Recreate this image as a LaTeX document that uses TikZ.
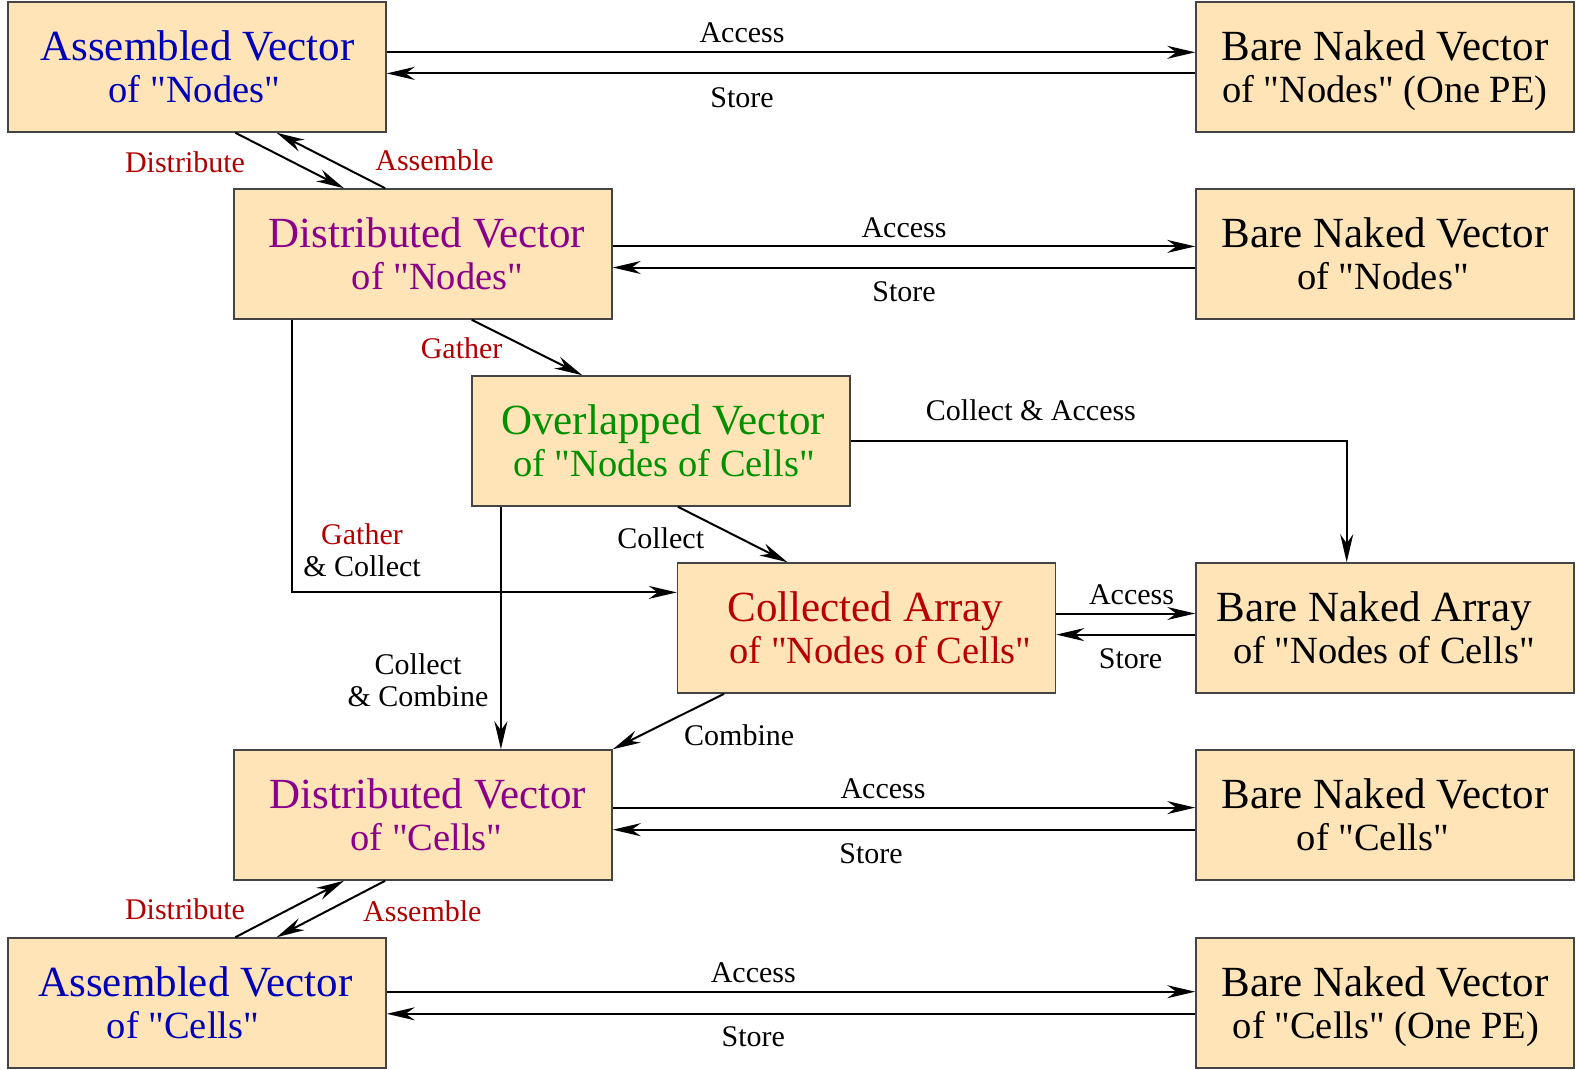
\documentclass[tikz,border=0pt]{standalone}
\usepackage{fontspec}
\setmainfont{Liberation Serif}[Ligatures=TeXOff]
\usetikzlibrary{arrows.meta}

\definecolor{boxfill}{HTML}{FFE4B8}
\definecolor{boxline}{HTML}{444444}
\definecolor{asmblue}{HTML}{0000B8}
\definecolor{distpurple}{HTML}{8B008B}
\definecolor{ovlgreen}{HTML}{009000}
\definecolor{colred}{HTML}{B80000}
\definecolor{opred}{HTML}{B00000}

% second line of a box title is set a little smaller
\newcommand\secondline{\fontsize{38.5}{42}\selectfont}
% move one title line sideways by #1 without changing its width
\newcommand\nudge[2]{\hspace*{#1}#2\kern-#1\relax}

\tikzset{
  vecbox/.style={draw=boxline, line width=1.5pt, fill=boxfill,
    minimum width=378pt, minimum height=130pt, inner sep=0pt,
    align=center, font=\fontsize{43}{42}\selectfont},
  lbl/.style={inner sep=0pt, font=\fontsize{30}{32}\selectfont, align=center},
  oplbl/.style={lbl, text=opred},
  arr/.style={line width=2pt, -{Stealth[length=28pt,width=13pt,inset=9pt]}},
}

\begin{document}
\begin{tikzpicture}[x=1pt,y=-1pt]
\useasboundingbox (0,0) rectangle (1577,1070);

% boxes
\node[vecbox, text=asmblue]    (A1) at (197,67)    {\nudge{0.5pt}{Assembled Vector}\\\secondline \nudge{-2.5pt}{of "Nodes"}};
\node[vecbox]                  (B1) at (1385,67)   {Bare Naked Vector\\\secondline of "Nodes" \smash{(One PE)}};
\node[vecbox, text=distpurple] (D1) at (423,254)   {\nudge{4pt}{Distributed Vector}\\\secondline \nudge{14.5pt}{of "Nodes"}};
\node[vecbox]                  (B2) at (1385,254)  {Bare Naked Vector\\\secondline \nudge{-2pt}{of "Nodes"}};
\node[vecbox, text=ovlgreen]   (O)  at (661,441)   {\nudge{2pt}{Overlapped Vector}\\\secondline \nudge{3pt}{of "Nodes of Cells"}};
\node[vecbox, text=colred]     (C)  at (866.5,628) {\nudge{-1pt}{Collected Array}\\\secondline \nudge{14pt}{of "Nodes of Cells"}};
\node[vecbox]                  (B3) at (1385,628)  {\nudge{-11pt}{Bare Naked Array}\\\secondline \nudge{-1pt}{of "Nodes of Cells"}};
\node[vecbox, text=distpurple] (D2) at (423,815)   {\nudge{5pt}{Distributed Vector}\\\secondline \nudge{3.5pt}{of "Cells"}};
\node[vecbox]                  (B4) at (1385,815)  {Bare Naked Vector\\\secondline \nudge{-12pt}{of "Cells"}};
\node[vecbox, text=asmblue]    (A2) at (197,1003)  {\nudge{-1.5pt}{Assembled Vector}\\\secondline \nudge{-14pt}{of "Cells"}};
\node[vecbox]                  (B5) at (1385,1003) {Bare Naked Vector\\\secondline \nudge{1pt}{of "Cells" \smash{(One PE)}}};

% access / store pairs
\draw[arr] ([yshift=14.7pt]A1.east) -- ([yshift=14.7pt]B1.west);
\draw[arr] ([yshift=-6.4pt]B1.west) -- ([yshift=-6.4pt]A1.east);
\node[lbl] (l1a) at (742,33.2) {Access};
\node[lbl] (l1s) at (742,97.6) {Store};

\draw[arr] ([yshift=7.6pt]D1.east) -- ([yshift=7.6pt]B2.west);
\draw[arr] ([yshift=-13.5pt]B2.west) -- ([yshift=-13.5pt]D1.east);
\node[lbl] (l2a) at (904,227.3) {Access};
\node[lbl] (l2s) at (904,291.7) {Store};

\draw[arr] ([yshift=14.5pt]C.east) -- ([yshift=14.5pt]B3.west);
\draw[arr] ([yshift=-6.6pt]B3.west) -- ([yshift=-6.6pt]C.east);
\node[lbl] (l3a) at (1131.5,594.4) {Access};
\node[lbl] (l3s) at (1130.5,658.8) {Store};

\draw[arr] ([yshift=7.4pt]D2.east) -- ([yshift=7.4pt]B4.west);
\draw[arr] ([yshift=-14.7pt]B4.west) -- ([yshift=-14.7pt]D2.east);
\node[lbl] (l4a) at (883,788.5) {Access};
\node[lbl] (l4s) at (871,853.9) {Store};

\draw[arr] ([yshift=11.3pt]A2.east) -- ([yshift=11.3pt]B5.west);
\draw[arr] ([yshift=-10.8pt]B5.west) -- ([yshift=-10.8pt]A2.east);
\node[lbl] (l5a) at (753.3,972.6) {Access};
\node[lbl] (l5s) at (753.3,1036.9) {Store};

% distribute / assemble of nodes
\draw[arr] ([xshift=38.3pt]A1.south) -- ([xshift=-79pt]D1.north);
\draw[arr] ([xshift=-37.8pt]D1.north) -- ([xshift=79.6pt]A1.south);
\node[oplbl] (ld1) at (185,162) {Distribute};
\node[oplbl] (la1) at (434.5,160) {Assemble};

% gather into the overlapped vector
\draw[arr] ([xshift=48.7pt]D1.south) -- ([xshift=-78.7pt]O.north);
\node[oplbl] (lg) at (461.6,348) {Gather};

% gather & collect straight into the collected array
\draw[arr] ([xshift=-131.3pt]D1.south) |- ([yshift=35.6pt]C.west);
\node[lbl] (lgc) at (362,550) {\textcolor{opred}{Gather}\\\& Collect};

% collect from the overlapped vector
\draw[arr] ([xshift=16.9pt]O.south) -- ([xshift=-79pt]C.north);
\node[lbl] (lc) at (660.8,538) {Collect};

% collect & combine down to the distributed cells
\draw[arr] ([xshift=-160.1pt]O.south) -- ([xshift=77.9pt]D2.north);
\node[lbl] (lcc) at (418,680) {Collect\\\& Combine};

% combine from the collected array
\draw[arr] ([xshift=-142.4pt]C.south) -- (D2.north east);
\node[lbl] (lcb) at (739.2,735.2) {Combine};

% collect & access to the bare array
\draw[arr] (O.east) -| ([xshift=-38.3pt]B3.north);
\node[lbl] (lca) at (1030.9,410.3) {Collect \& Access};

% distribute / assemble of cells
\draw[arr] ([xshift=-37.8pt]D2.south) -- ([xshift=79.6pt]A2.north);
\draw[arr] ([xshift=38.3pt]A2.north) -- ([xshift=-79pt]D2.south);
\node[oplbl] (ld2) at (185,909.2) {Distribute};
\node[oplbl] (la2) at (422.4,911.2) {Assemble};

\end{tikzpicture}
\end{document}
